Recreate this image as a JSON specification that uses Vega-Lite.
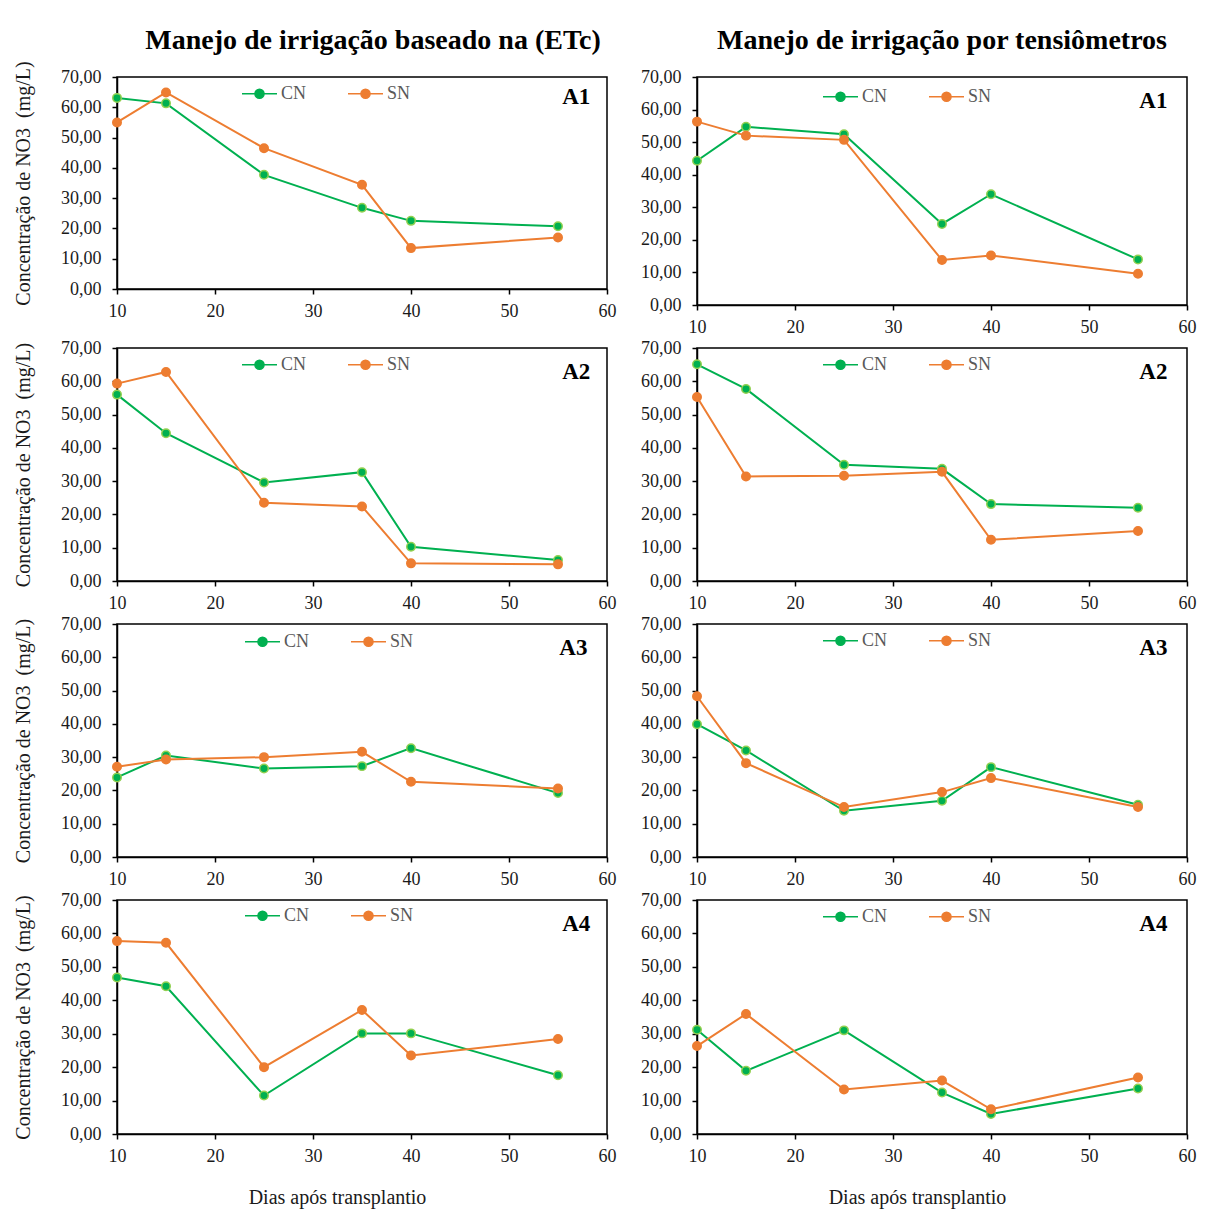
{
  "$schema": "https://vega.github.io/schema/vega-lite/v6.json",
  "background": "white",
  "padding": {"left": 12, "top": 26, "right": 5, "bottom": 5},
  "data": {
    "values": [
      {"m": "ETc", "a": "A1", "s": "CN", "d": 10, "v": 63.1},
      {"m": "ETc", "a": "A1", "s": "CN", "d": 15, "v": 61.3},
      {"m": "ETc", "a": "A1", "s": "CN", "d": 25, "v": 37.7},
      {"m": "ETc", "a": "A1", "s": "CN", "d": 35, "v": 26.8},
      {"m": "ETc", "a": "A1", "s": "CN", "d": 40, "v": 22.5},
      {"m": "ETc", "a": "A1", "s": "CN", "d": 55, "v": 20.7},
      {"m": "ETc", "a": "A1", "s": "SN", "d": 10, "v": 55.0},
      {"m": "ETc", "a": "A1", "s": "SN", "d": 15, "v": 64.9},
      {"m": "ETc", "a": "A1", "s": "SN", "d": 25, "v": 46.5},
      {"m": "ETc", "a": "A1", "s": "SN", "d": 35, "v": 34.4},
      {"m": "ETc", "a": "A1", "s": "SN", "d": 40, "v": 13.5},
      {"m": "ETc", "a": "A1", "s": "SN", "d": 55, "v": 17.0},
      {"m": "Tens", "a": "A1", "s": "CN", "d": 10, "v": 44.3},
      {"m": "Tens", "a": "A1", "s": "CN", "d": 15, "v": 54.7},
      {"m": "Tens", "a": "A1", "s": "CN", "d": 25, "v": 52.4},
      {"m": "Tens", "a": "A1", "s": "CN", "d": 35, "v": 24.9},
      {"m": "Tens", "a": "A1", "s": "CN", "d": 40, "v": 34.0},
      {"m": "Tens", "a": "A1", "s": "CN", "d": 55, "v": 14.0},
      {"m": "Tens", "a": "A1", "s": "SN", "d": 10, "v": 56.3},
      {"m": "Tens", "a": "A1", "s": "SN", "d": 15, "v": 52.0},
      {"m": "Tens", "a": "A1", "s": "SN", "d": 25, "v": 50.7},
      {"m": "Tens", "a": "A1", "s": "SN", "d": 35, "v": 13.8},
      {"m": "Tens", "a": "A1", "s": "SN", "d": 40, "v": 15.2},
      {"m": "Tens", "a": "A1", "s": "SN", "d": 55, "v": 9.6},
      {"m": "ETc", "a": "A2", "s": "CN", "d": 10, "v": 56.0},
      {"m": "ETc", "a": "A2", "s": "CN", "d": 15, "v": 44.4},
      {"m": "ETc", "a": "A2", "s": "CN", "d": 25, "v": 29.6},
      {"m": "ETc", "a": "A2", "s": "CN", "d": 35, "v": 32.7},
      {"m": "ETc", "a": "A2", "s": "CN", "d": 40, "v": 10.3},
      {"m": "ETc", "a": "A2", "s": "CN", "d": 55, "v": 6.3},
      {"m": "ETc", "a": "A2", "s": "SN", "d": 10, "v": 59.3},
      {"m": "ETc", "a": "A2", "s": "SN", "d": 15, "v": 62.8},
      {"m": "ETc", "a": "A2", "s": "SN", "d": 25, "v": 23.5},
      {"m": "ETc", "a": "A2", "s": "SN", "d": 35, "v": 22.4},
      {"m": "ETc", "a": "A2", "s": "SN", "d": 40, "v": 5.3},
      {"m": "ETc", "a": "A2", "s": "SN", "d": 55, "v": 5.0},
      {"m": "Tens", "a": "A2", "s": "CN", "d": 10, "v": 65.1},
      {"m": "Tens", "a": "A2", "s": "CN", "d": 15, "v": 57.7},
      {"m": "Tens", "a": "A2", "s": "CN", "d": 25, "v": 34.9},
      {"m": "Tens", "a": "A2", "s": "CN", "d": 35, "v": 33.7},
      {"m": "Tens", "a": "A2", "s": "CN", "d": 40, "v": 23.1},
      {"m": "Tens", "a": "A2", "s": "CN", "d": 55, "v": 22.0},
      {"m": "Tens", "a": "A2", "s": "SN", "d": 10, "v": 55.3},
      {"m": "Tens", "a": "A2", "s": "SN", "d": 15, "v": 31.4},
      {"m": "Tens", "a": "A2", "s": "SN", "d": 25, "v": 31.6},
      {"m": "Tens", "a": "A2", "s": "SN", "d": 35, "v": 32.8},
      {"m": "Tens", "a": "A2", "s": "SN", "d": 40, "v": 12.4},
      {"m": "Tens", "a": "A2", "s": "SN", "d": 55, "v": 15.0},
      {"m": "ETc", "a": "A3", "s": "CN", "d": 10, "v": 23.9},
      {"m": "ETc", "a": "A3", "s": "CN", "d": 15, "v": 30.5},
      {"m": "ETc", "a": "A3", "s": "CN", "d": 25, "v": 26.6},
      {"m": "ETc", "a": "A3", "s": "CN", "d": 35, "v": 27.3},
      {"m": "ETc", "a": "A3", "s": "CN", "d": 40, "v": 32.7},
      {"m": "ETc", "a": "A3", "s": "CN", "d": 55, "v": 19.2},
      {"m": "ETc", "a": "A3", "s": "SN", "d": 10, "v": 27.1},
      {"m": "ETc", "a": "A3", "s": "SN", "d": 15, "v": 29.3},
      {"m": "ETc", "a": "A3", "s": "SN", "d": 25, "v": 30.0},
      {"m": "ETc", "a": "A3", "s": "SN", "d": 35, "v": 31.6},
      {"m": "ETc", "a": "A3", "s": "SN", "d": 40, "v": 22.6},
      {"m": "ETc", "a": "A3", "s": "SN", "d": 55, "v": 20.6},
      {"m": "Tens", "a": "A3", "s": "CN", "d": 10, "v": 39.9},
      {"m": "Tens", "a": "A3", "s": "CN", "d": 15, "v": 32.0},
      {"m": "Tens", "a": "A3", "s": "CN", "d": 25, "v": 13.9},
      {"m": "Tens", "a": "A3", "s": "CN", "d": 35, "v": 16.9},
      {"m": "Tens", "a": "A3", "s": "CN", "d": 40, "v": 27.0},
      {"m": "Tens", "a": "A3", "s": "CN", "d": 55, "v": 15.7},
      {"m": "Tens", "a": "A3", "s": "SN", "d": 10, "v": 48.3},
      {"m": "Tens", "a": "A3", "s": "SN", "d": 15, "v": 28.2},
      {"m": "Tens", "a": "A3", "s": "SN", "d": 25, "v": 15.0},
      {"m": "Tens", "a": "A3", "s": "SN", "d": 35, "v": 19.5},
      {"m": "Tens", "a": "A3", "s": "SN", "d": 40, "v": 23.7},
      {"m": "Tens", "a": "A3", "s": "SN", "d": 55, "v": 15.0},
      {"m": "ETc", "a": "A4", "s": "CN", "d": 10, "v": 46.8},
      {"m": "ETc", "a": "A4", "s": "CN", "d": 15, "v": 44.2},
      {"m": "ETc", "a": "A4", "s": "CN", "d": 25, "v": 11.5},
      {"m": "ETc", "a": "A4", "s": "CN", "d": 35, "v": 30.1},
      {"m": "ETc", "a": "A4", "s": "CN", "d": 40, "v": 30.1},
      {"m": "ETc", "a": "A4", "s": "CN", "d": 55, "v": 17.6},
      {"m": "ETc", "a": "A4", "s": "SN", "d": 10, "v": 57.7},
      {"m": "ETc", "a": "A4", "s": "SN", "d": 15, "v": 57.2},
      {"m": "ETc", "a": "A4", "s": "SN", "d": 25, "v": 20.0},
      {"m": "ETc", "a": "A4", "s": "SN", "d": 35, "v": 37.1},
      {"m": "ETc", "a": "A4", "s": "SN", "d": 40, "v": 23.5},
      {"m": "ETc", "a": "A4", "s": "SN", "d": 55, "v": 28.4},
      {"m": "Tens", "a": "A4", "s": "CN", "d": 10, "v": 31.2},
      {"m": "Tens", "a": "A4", "s": "CN", "d": 15, "v": 18.9},
      {"m": "Tens", "a": "A4", "s": "CN", "d": 25, "v": 31.0},
      {"m": "Tens", "a": "A4", "s": "CN", "d": 35, "v": 12.4},
      {"m": "Tens", "a": "A4", "s": "CN", "d": 40, "v": 6.0},
      {"m": "Tens", "a": "A4", "s": "CN", "d": 55, "v": 13.6},
      {"m": "Tens", "a": "A4", "s": "SN", "d": 10, "v": 26.3},
      {"m": "Tens", "a": "A4", "s": "SN", "d": 15, "v": 35.9},
      {"m": "Tens", "a": "A4", "s": "SN", "d": 25, "v": 13.3},
      {"m": "Tens", "a": "A4", "s": "SN", "d": 35, "v": 16.0},
      {"m": "Tens", "a": "A4", "s": "SN", "d": 40, "v": 7.4},
      {"m": "Tens", "a": "A4", "s": "SN", "d": 55, "v": 16.9}
    ]
  },
  "spacing": 1,
  "resolve": {"scale": {"color": "independent"}, "legend": {"color": "independent"}},
  "vconcat": [
    {
      "spacing": 22,
      "resolve": {"scale": {"color": "independent"}, "legend": {"color": "independent"}},
      "hconcat": [
        {
          "width": 490, "height": 212,
          "title": {"text": "Manejo de irrigação baseado na (ETc)", "dx": 11, "offset": 6},
          "transform": [{"filter": "datum.m == 'ETc' && datum.a == 'A1'"}],
          "layer": [
            {"mark": {"type": "line", "strokeWidth": 2},
             "encoding": {
               "x": {"field": "d", "type": "quantitative", "scale": {"domain": [10, 60], "nice": false}, "axis": {"values": [10, 20, 30, 40, 50, 60], "title": null, "labelOverlap": false}},
               "y": {"field": "v", "type": "quantitative", "scale": {"domain": [0, 70], "nice": false}, "axis": {"values": [0, 10, 20, 30, 40, 50, 60, 70], "tickCount": 8, "labelOverlap": false, "labelExpr": "replace(format(datum.value, '.2f'), '.', ',')", "title": "Concentração de NO3\u00a0\u00a0(mg/L)"}},
               "color": {"field": "s", "type": "nominal", "scale": {"domain": ["CN", "SN"], "range": ["#00B050", "#ED7D31"]},
                 "legend": {"orient": "none", "legendX": 124, "legendY": -2, "direction": "horizontal", "title": null,
                   "encode": {"symbols": {"update": {"fill": {"signal": "datum.value == 'CN' ? '#0A9E3C' : '#ED7D31'"}, "stroke": {"signal": "datum.value == 'CN' ? '#00B050' : '#ED7D31'"}, "opacity": {"value": 1}}}}}}
             }},
            {"mark": {"type": "point", "filled": true, "size": 72, "strokeWidth": 1.5, "opacity": 1},
             "encoding": {
               "x": {"field": "d", "type": "quantitative"},
               "y": {"field": "v", "type": "quantitative"},
               "color": {"field": "s", "type": "nominal", "legend": null},
               "stroke": {"condition": {"test": "datum.s == 'CN'", "value": "#92D050"}, "value": "#ED7D31"}
             }},
            {"transform": [{"filter": "datum.d == 10 && datum.s == 'CN'"}],
             "mark": {"type": "text", "font": "Liberation Serif", "fontSize": 23, "fontWeight": "bold", "align": "right", "baseline": "middle", "color": "black"},
             "encoding": {"x": {"datum": 58.3, "type": "quantitative"}, "y": {"datum": 63.3, "type": "quantitative"}, "text": {"field": "a"}}}
          ]
        },
        {
          "width": 490, "height": 228,
          "title": {"text": "Manejo de irrigação por tensiômetros", "offset": 13},
          "transform": [{"filter": "datum.m == 'Tens' && datum.a == 'A1'"}],
          "layer": [
            {"mark": {"type": "line", "strokeWidth": 2},
             "encoding": {
               "x": {"field": "d", "type": "quantitative", "scale": {"domain": [10, 60], "nice": false}, "axis": {"values": [10, 20, 30, 40, 50, 60], "title": null, "labelOverlap": false}},
               "y": {"field": "v", "type": "quantitative", "scale": {"domain": [0, 70], "nice": false}, "axis": {"values": [0, 10, 20, 30, 40, 50, 60, 70], "tickCount": 8, "labelOverlap": false, "labelExpr": "replace(format(datum.value, '.2f'), '.', ',')", "title": null}},
               "color": {"field": "s", "type": "nominal", "scale": {"domain": ["CN", "SN"], "range": ["#00B050", "#ED7D31"]},
                 "legend": {"orient": "none", "legendX": 125, "legendY": 1, "direction": "horizontal", "title": null,
                   "encode": {"symbols": {"update": {"fill": {"signal": "datum.value == 'CN' ? '#0A9E3C' : '#ED7D31'"}, "stroke": {"signal": "datum.value == 'CN' ? '#00B050' : '#ED7D31'"}, "opacity": {"value": 1}}}}}}
             }},
            {"mark": {"type": "point", "filled": true, "size": 72, "strokeWidth": 1.5, "opacity": 1},
             "encoding": {
               "x": {"field": "d", "type": "quantitative"},
               "y": {"field": "v", "type": "quantitative"},
               "color": {"field": "s", "type": "nominal", "legend": null},
               "stroke": {"condition": {"test": "datum.s == 'CN'", "value": "#92D050"}, "value": "#ED7D31"}
             }},
            {"transform": [{"filter": "datum.d == 10 && datum.s == 'CN'"}],
             "mark": {"type": "text", "font": "Liberation Serif", "fontSize": 23, "fontWeight": "bold", "align": "right", "baseline": "middle", "color": "black"},
             "encoding": {"x": {"datum": 58.0, "type": "quantitative"}, "y": {"datum": 62.5, "type": "quantitative"}, "text": {"field": "a"}}}
          ]
        }
      ]
    },
    {
      "spacing": 22,
      "resolve": {"scale": {"color": "independent"}, "legend": {"color": "independent"}},
      "hconcat": [
        {
          "width": 490, "height": 233,
          "transform": [{"filter": "datum.m == 'ETc' && datum.a == 'A2'"}],
          "layer": [
            {"mark": {"type": "line", "strokeWidth": 2},
             "encoding": {
               "x": {"field": "d", "type": "quantitative", "scale": {"domain": [10, 60], "nice": false}, "axis": {"values": [10, 20, 30, 40, 50, 60], "title": null, "labelOverlap": false}},
               "y": {"field": "v", "type": "quantitative", "scale": {"domain": [0, 70], "nice": false}, "axis": {"values": [0, 10, 20, 30, 40, 50, 60, 70], "tickCount": 8, "labelOverlap": false, "labelExpr": "replace(format(datum.value, '.2f'), '.', ',')", "title": "Concentração de NO3\u00a0\u00a0(mg/L)"}},
               "color": {"field": "s", "type": "nominal", "scale": {"domain": ["CN", "SN"], "range": ["#00B050", "#ED7D31"]},
                 "legend": {"orient": "none", "legendX": 124, "legendY": -2, "direction": "horizontal", "title": null,
                   "encode": {"symbols": {"update": {"fill": {"signal": "datum.value == 'CN' ? '#0A9E3C' : '#ED7D31'"}, "stroke": {"signal": "datum.value == 'CN' ? '#00B050' : '#ED7D31'"}, "opacity": {"value": 1}}}}}}
             }},
            {"mark": {"type": "point", "filled": true, "size": 72, "strokeWidth": 1.5, "opacity": 1},
             "encoding": {
               "x": {"field": "d", "type": "quantitative"},
               "y": {"field": "v", "type": "quantitative"},
               "color": {"field": "s", "type": "nominal", "legend": null},
               "stroke": {"condition": {"test": "datum.s == 'CN'", "value": "#92D050"}, "value": "#ED7D31"}
             }},
            {"transform": [{"filter": "datum.d == 10 && datum.s == 'CN'"}],
             "mark": {"type": "text", "font": "Liberation Serif", "fontSize": 23, "fontWeight": "bold", "align": "right", "baseline": "middle", "color": "black"},
             "encoding": {"x": {"datum": 58.3, "type": "quantitative"}, "y": {"datum": 62.8, "type": "quantitative"}, "text": {"field": "a"}}}
          ]
        },
        {
          "width": 490, "height": 233,
          "transform": [{"filter": "datum.m == 'Tens' && datum.a == 'A2'"}],
          "layer": [
            {"mark": {"type": "line", "strokeWidth": 2},
             "encoding": {
               "x": {"field": "d", "type": "quantitative", "scale": {"domain": [10, 60], "nice": false}, "axis": {"values": [10, 20, 30, 40, 50, 60], "title": null, "labelOverlap": false}},
               "y": {"field": "v", "type": "quantitative", "scale": {"domain": [0, 70], "nice": false}, "axis": {"values": [0, 10, 20, 30, 40, 50, 60, 70], "tickCount": 8, "labelOverlap": false, "labelExpr": "replace(format(datum.value, '.2f'), '.', ',')", "title": null}},
               "color": {"field": "s", "type": "nominal", "scale": {"domain": ["CN", "SN"], "range": ["#00B050", "#ED7D31"]},
                 "legend": {"orient": "none", "legendX": 125, "legendY": -2, "direction": "horizontal", "title": null,
                   "encode": {"symbols": {"update": {"fill": {"signal": "datum.value == 'CN' ? '#0A9E3C' : '#ED7D31'"}, "stroke": {"signal": "datum.value == 'CN' ? '#00B050' : '#ED7D31'"}, "opacity": {"value": 1}}}}}}
             }},
            {"mark": {"type": "point", "filled": true, "size": 72, "strokeWidth": 1.5, "opacity": 1},
             "encoding": {
               "x": {"field": "d", "type": "quantitative"},
               "y": {"field": "v", "type": "quantitative"},
               "color": {"field": "s", "type": "nominal", "legend": null},
               "stroke": {"condition": {"test": "datum.s == 'CN'", "value": "#92D050"}, "value": "#ED7D31"}
             }},
            {"transform": [{"filter": "datum.d == 10 && datum.s == 'CN'"}],
             "mark": {"type": "text", "font": "Liberation Serif", "fontSize": 23, "fontWeight": "bold", "align": "right", "baseline": "middle", "color": "black"},
             "encoding": {"x": {"datum": 58.0, "type": "quantitative"}, "y": {"datum": 62.8, "type": "quantitative"}, "text": {"field": "a"}}}
          ]
        }
      ]
    },
    {
      "spacing": 22,
      "resolve": {"scale": {"color": "independent"}, "legend": {"color": "independent"}},
      "hconcat": [
        {
          "width": 490, "height": 233,
          "transform": [{"filter": "datum.m == 'ETc' && datum.a == 'A3'"}],
          "layer": [
            {"mark": {"type": "line", "strokeWidth": 2},
             "encoding": {
               "x": {"field": "d", "type": "quantitative", "scale": {"domain": [10, 60], "nice": false}, "axis": {"values": [10, 20, 30, 40, 50, 60], "title": null, "labelOverlap": false}},
               "y": {"field": "v", "type": "quantitative", "scale": {"domain": [0, 70], "nice": false}, "axis": {"values": [0, 10, 20, 30, 40, 50, 60, 70], "tickCount": 8, "labelOverlap": false, "labelExpr": "replace(format(datum.value, '.2f'), '.', ',')", "title": "Concentração de NO3\u00a0\u00a0(mg/L)"}},
               "color": {"field": "s", "type": "nominal", "scale": {"domain": ["CN", "SN"], "range": ["#00B050", "#ED7D31"]},
                 "legend": {"orient": "none", "legendX": 127, "legendY": -1, "direction": "horizontal", "title": null,
                   "encode": {"symbols": {"update": {"fill": {"signal": "datum.value == 'CN' ? '#0A9E3C' : '#ED7D31'"}, "stroke": {"signal": "datum.value == 'CN' ? '#00B050' : '#ED7D31'"}, "opacity": {"value": 1}}}}}}
             }},
            {"mark": {"type": "point", "filled": true, "size": 72, "strokeWidth": 1.5, "opacity": 1},
             "encoding": {
               "x": {"field": "d", "type": "quantitative"},
               "y": {"field": "v", "type": "quantitative"},
               "color": {"field": "s", "type": "nominal", "legend": null},
               "stroke": {"condition": {"test": "datum.s == 'CN'", "value": "#92D050"}, "value": "#ED7D31"}
             }},
            {"transform": [{"filter": "datum.d == 10 && datum.s == 'CN'"}],
             "mark": {"type": "text", "font": "Liberation Serif", "fontSize": 23, "fontWeight": "bold", "align": "right", "baseline": "middle", "color": "black"},
             "encoding": {"x": {"datum": 58.0, "type": "quantitative"}, "y": {"datum": 62.8, "type": "quantitative"}, "text": {"field": "a"}}}
          ]
        },
        {
          "width": 490, "height": 233,
          "transform": [{"filter": "datum.m == 'Tens' && datum.a == 'A3'"}],
          "layer": [
            {"mark": {"type": "line", "strokeWidth": 2},
             "encoding": {
               "x": {"field": "d", "type": "quantitative", "scale": {"domain": [10, 60], "nice": false}, "axis": {"values": [10, 20, 30, 40, 50, 60], "title": null, "labelOverlap": false}},
               "y": {"field": "v", "type": "quantitative", "scale": {"domain": [0, 70], "nice": false}, "axis": {"values": [0, 10, 20, 30, 40, 50, 60, 70], "tickCount": 8, "labelOverlap": false, "labelExpr": "replace(format(datum.value, '.2f'), '.', ',')", "title": null}},
               "color": {"field": "s", "type": "nominal", "scale": {"domain": ["CN", "SN"], "range": ["#00B050", "#ED7D31"]},
                 "legend": {"orient": "none", "legendX": 125, "legendY": -2, "direction": "horizontal", "title": null,
                   "encode": {"symbols": {"update": {"fill": {"signal": "datum.value == 'CN' ? '#0A9E3C' : '#ED7D31'"}, "stroke": {"signal": "datum.value == 'CN' ? '#00B050' : '#ED7D31'"}, "opacity": {"value": 1}}}}}}
             }},
            {"mark": {"type": "point", "filled": true, "size": 72, "strokeWidth": 1.5, "opacity": 1},
             "encoding": {
               "x": {"field": "d", "type": "quantitative"},
               "y": {"field": "v", "type": "quantitative"},
               "color": {"field": "s", "type": "nominal", "legend": null},
               "stroke": {"condition": {"test": "datum.s == 'CN'", "value": "#92D050"}, "value": "#ED7D31"}
             }},
            {"transform": [{"filter": "datum.d == 10 && datum.s == 'CN'"}],
             "mark": {"type": "text", "font": "Liberation Serif", "fontSize": 23, "fontWeight": "bold", "align": "right", "baseline": "middle", "color": "black"},
             "encoding": {"x": {"datum": 58.0, "type": "quantitative"}, "y": {"datum": 62.8, "type": "quantitative"}, "text": {"field": "a"}}}
          ]
        }
      ]
    },
    {
      "spacing": 22,
      "resolve": {"scale": {"color": "independent"}, "legend": {"color": "independent"}},
      "hconcat": [
        {
          "width": 490, "height": 234,
          "transform": [{"filter": "datum.m == 'ETc' && datum.a == 'A4'"}],
          "layer": [
            {"mark": {"type": "line", "strokeWidth": 2},
             "encoding": {
               "x": {"field": "d", "type": "quantitative", "scale": {"domain": [10, 60], "nice": false}, "axis": {"values": [10, 20, 30, 40, 50, 60], "labelOverlap": false, "title": "Dias após transplantio", "titleX": 220, "titlePadding": 22}},
               "y": {"field": "v", "type": "quantitative", "scale": {"domain": [0, 70], "nice": false}, "axis": {"values": [0, 10, 20, 30, 40, 50, 60, 70], "tickCount": 8, "labelOverlap": false, "labelExpr": "replace(format(datum.value, '.2f'), '.', ',')", "title": "Concentração de NO3\u00a0\u00a0(mg/L)"}},
               "color": {"field": "s", "type": "nominal", "scale": {"domain": ["CN", "SN"], "range": ["#00B050", "#ED7D31"]},
                 "legend": {"orient": "none", "legendX": 127, "legendY": -3, "direction": "horizontal", "title": null,
                   "encode": {"symbols": {"update": {"fill": {"signal": "datum.value == 'CN' ? '#0A9E3C' : '#ED7D31'"}, "stroke": {"signal": "datum.value == 'CN' ? '#00B050' : '#ED7D31'"}, "opacity": {"value": 1}}}}}}
             }},
            {"mark": {"type": "point", "filled": true, "size": 72, "strokeWidth": 1.5, "opacity": 1},
             "encoding": {
               "x": {"field": "d", "type": "quantitative"},
               "y": {"field": "v", "type": "quantitative"},
               "color": {"field": "s", "type": "nominal", "legend": null},
               "stroke": {"condition": {"test": "datum.s == 'CN'", "value": "#92D050"}, "value": "#ED7D31"}
             }},
            {"transform": [{"filter": "datum.d == 10 && datum.s == 'CN'"}],
             "mark": {"type": "text", "font": "Liberation Serif", "fontSize": 23, "fontWeight": "bold", "align": "right", "baseline": "middle", "color": "black"},
             "encoding": {"x": {"datum": 58.3, "type": "quantitative"}, "y": {"datum": 62.8, "type": "quantitative"}, "text": {"field": "a"}}}
          ]
        },
        {
          "width": 490, "height": 234,
          "transform": [{"filter": "datum.m == 'Tens' && datum.a == 'A4'"}],
          "layer": [
            {"mark": {"type": "line", "strokeWidth": 2},
             "encoding": {
               "x": {"field": "d", "type": "quantitative", "scale": {"domain": [10, 60], "nice": false}, "axis": {"values": [10, 20, 30, 40, 50, 60], "labelOverlap": false, "title": "Dias após transplantio", "titleX": 220, "titlePadding": 22}},
               "y": {"field": "v", "type": "quantitative", "scale": {"domain": [0, 70], "nice": false}, "axis": {"values": [0, 10, 20, 30, 40, 50, 60, 70], "tickCount": 8, "labelOverlap": false, "labelExpr": "replace(format(datum.value, '.2f'), '.', ',')", "title": null}},
               "color": {"field": "s", "type": "nominal", "scale": {"domain": ["CN", "SN"], "range": ["#00B050", "#ED7D31"]},
                 "legend": {"orient": "none", "legendX": 125, "legendY": -2, "direction": "horizontal", "title": null,
                   "encode": {"symbols": {"update": {"fill": {"signal": "datum.value == 'CN' ? '#0A9E3C' : '#ED7D31'"}, "stroke": {"signal": "datum.value == 'CN' ? '#00B050' : '#ED7D31'"}, "opacity": {"value": 1}}}}}}
             }},
            {"mark": {"type": "point", "filled": true, "size": 72, "strokeWidth": 1.5, "opacity": 1},
             "encoding": {
               "x": {"field": "d", "type": "quantitative"},
               "y": {"field": "v", "type": "quantitative"},
               "color": {"field": "s", "type": "nominal", "legend": null},
               "stroke": {"condition": {"test": "datum.s == 'CN'", "value": "#92D050"}, "value": "#ED7D31"}
             }},
            {"transform": [{"filter": "datum.d == 10 && datum.s == 'CN'"}],
             "mark": {"type": "text", "font": "Liberation Serif", "fontSize": 23, "fontWeight": "bold", "align": "right", "baseline": "middle", "color": "black"},
             "encoding": {"x": {"datum": 58.0, "type": "quantitative"}, "y": {"datum": 62.8, "type": "quantitative"}, "text": {"field": "a"}}}
          ]
        }
      ]
    }
  ],
  "config": {
    "view": {"stroke": "black", "strokeWidth": 1.5},
    "axis": {
      "grid": false, "labelOverlap": false,
      "labelFont": "Liberation Serif", "labelFontSize": 18, "labelColor": "#1a1a1a", "labelPadding": 11, "labelFlush": false,
      "titleFont": "Liberation Serif", "titleFontSize": 20, "titleFontWeight": "normal", "titleColor": "#1a1a1a",
      "domainColor": "black", "domainWidth": 1.5, "tickColor": "black", "tickWidth": 1.5, "tickSize": 5
    },
    "axisX": {"labelPadding": 8},
    "axisY": {"titlePadding": 27},
    "legend": {
      "symbolType": "M-1,0L1,0M-0.26,0A0.26,0.26,0,1,0,0.26,0A0.26,0.26,0,1,0,-0.26,0Z",
      "symbolSize": 1225, "symbolStrokeWidth": 1.5,
      "labelFont": "Liberation Serif", "labelFontSize": 18, "labelColor": "#595959", "labelOffset": 3,
      "columnPadding": 38, "padding": 0
    },
    "title": {"font": "Liberation Serif", "fontSize": 28, "fontWeight": "bold", "color": "black"}
  }
}
